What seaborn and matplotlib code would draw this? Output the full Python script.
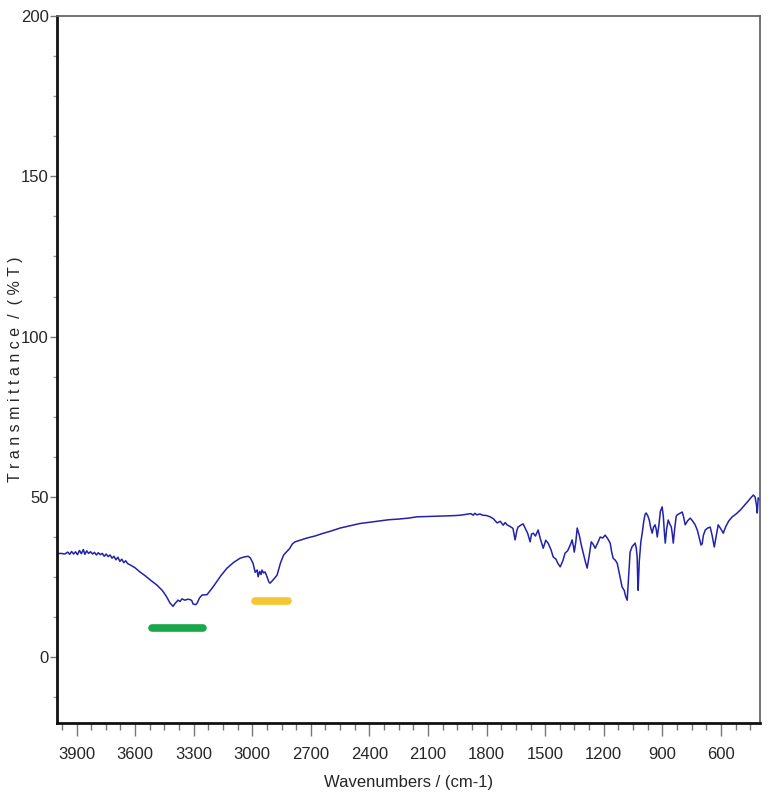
import numpy as np
import matplotlib
matplotlib.use('Agg')
import matplotlib.pyplot as plt
import matplotlib.ticker as ticker
import seaborn as sns

# ======================== 数据 ========================
wavenumber = [
    4000, 3980, 3960, 3945, 3935, 3925, 3915, 3905, 3895, 3885, 3875, 3865, 3857, 3848,
    3838, 3828, 3818, 3808, 3798, 3788, 3778, 3768, 3758, 3748, 3738, 3728, 3718, 3708,
    3698, 3688, 3678, 3668, 3658, 3648, 3638, 3625, 3600, 3575, 3550, 3520, 3488, 3460,
    3440, 3421, 3406, 3395, 3380, 3370, 3360, 3345, 3330, 3319, 3310, 3303, 3290, 3283,
    3270, 3257, 3232, 3200, 3160, 3129, 3095, 3062, 3040, 3021, 3010, 2996, 2985, 2975,
    2970, 2962, 2955, 2950, 2942, 2934, 2925, 2915, 2909, 2895, 2873, 2855, 2840, 2832,
    2810, 2795, 2781, 2760, 2740, 2719, 2680, 2640, 2600, 2550, 2500, 2450, 2400, 2350,
    2300, 2250, 2200, 2156, 2100, 2050, 2000, 1960, 1935, 1900, 1880, 1869, 1860, 1850,
    1835, 1820, 1800, 1782, 1765, 1746, 1730, 1715, 1705, 1695, 1680, 1665, 1654, 1645,
    1639, 1625, 1613, 1600, 1590, 1577, 1570, 1561, 1550, 1536, 1525, 1510, 1497, 1485,
    1470, 1459, 1445, 1435, 1423, 1410, 1398, 1385, 1370, 1362, 1355, 1351, 1343, 1336,
    1325, 1315, 1305, 1295, 1285, 1275, 1264, 1255, 1244, 1230, 1218, 1205, 1193, 1180,
    1167, 1160, 1152, 1140, 1131, 1120, 1112, 1106, 1095, 1088, 1080, 1074, 1068, 1065,
    1055, 1045, 1039, 1033, 1029, 1026, 1024, 1018, 1010, 1003, 995, 988, 983, 975,
    967, 960, 952, 945, 937, 931, 926, 918, 910, 901, 895, 889, 885, 878,
    870, 862, 854, 849, 844, 836, 829, 824, 812, 798, 790, 783, 770, 757,
    745, 732, 720, 710, 702, 696, 690, 680, 668, 655, 645, 634, 625, 614,
    600, 588, 575, 560, 542, 520, 501, 485, 465, 450, 434, 425, 418, 414,
    409, 403, 400,
]
transmittance = [
    32.3, 32.4, 32.2, 32.8, 32.1, 33.0, 32.2, 32.9, 32.0, 33.3, 32.3, 33.6, 32.1, 33.2,
    32.4, 32.9, 32.2, 32.7, 31.9, 32.6, 32.0, 32.4, 31.5, 32.2, 31.4, 31.9, 30.9, 31.5,
    30.4, 31.2, 29.9, 30.6, 29.5, 30.1, 29.2, 28.8, 27.9, 26.6, 25.5, 24.0, 22.5, 20.8,
    19.0, 16.9, 15.9, 16.8, 17.8, 17.4, 18.2, 17.8, 18.1, 18.0, 17.7, 16.6, 16.4, 16.8,
    18.5, 19.4, 19.5, 22.0, 25.5, 27.8, 29.6, 30.9, 31.3, 31.5, 31.0, 29.3, 26.5, 27.2,
    25.1, 26.8, 25.8, 27.2, 26.3, 26.6, 25.2, 23.5, 23.1, 24.0, 25.6, 29.5, 31.8, 32.4,
    33.8, 35.3, 36.0, 36.4, 36.8, 37.2, 37.8, 38.6, 39.3, 40.3, 41.0, 41.7, 42.1, 42.5,
    42.9, 43.1, 43.4, 43.8, 43.9, 44.0, 44.1, 44.2, 44.3, 44.6, 44.8, 44.3, 44.9, 44.4,
    44.7, 44.3, 44.2, 43.8, 43.2, 41.9, 42.4, 41.2, 42.0, 41.3, 40.8, 40.2, 36.6, 39.5,
    40.6, 41.2, 41.6, 40.0, 38.7, 36.0, 38.4, 38.7, 37.8, 39.7, 37.0, 34.0, 36.5, 35.6,
    33.5, 31.3, 30.6, 29.3, 28.2, 30.0, 32.5, 33.2, 35.2, 36.6, 34.5, 32.8, 36.0, 40.3,
    38.0, 35.0, 32.5, 30.0, 27.8, 31.5, 36.0, 35.3, 34.0, 35.8, 37.5, 37.2, 38.1, 37.0,
    35.6, 33.0, 30.9, 30.2, 29.3, 26.0, 23.5, 21.9, 20.8, 19.0, 17.8, 24.0, 30.5, 32.8,
    34.5, 35.2, 35.6, 33.8, 31.3, 24.0, 20.9, 30.0, 36.0, 38.7, 42.5, 44.6, 45.0, 44.2,
    42.8, 40.5, 38.7, 40.6, 41.3, 39.8, 37.5, 41.0, 45.5, 46.9, 44.0, 38.5, 35.6, 40.0,
    42.8, 41.6, 40.6, 38.5, 35.6, 40.5, 44.0, 44.4, 44.8, 45.3, 43.5, 41.3, 42.6, 43.4,
    42.5, 41.3, 39.5, 37.0, 35.0, 35.4, 38.0, 39.7, 40.3, 40.6, 38.0, 34.4, 37.5, 41.3,
    40.0, 38.7, 40.8, 42.5, 43.8, 44.8, 45.9, 47.0, 48.4, 49.5, 50.6, 50.0, 47.5, 45.0,
    49.7, 49.3, 49.0,
]

# 谱带标记 (O-H 与 C-H 区域)
band_oh_x = [3513, 3252]
band_oh_y = [9, 9]
band_ch_x = [2986, 2817]
band_ch_y = [17.5, 17.5]

x_major = [3900, 3600, 3300, 3000, 2700, 2400, 2100, 1800, 1500, 1200, 900, 600]
y_major = [0, 50, 100, 150, 200]

# ======================== 样式 ========================
sns.set_style('white')
plt.rcParams['font.family'] = ['Liberation Sans', 'DejaVu Sans']

fig = plt.figure(figsize=(7.71, 8.01), dpi=100)
ax = fig.add_axes([0.0739, 0.0974, 0.9118, 0.8826])

sns.lineplot(x=wavenumber, y=transmittance, sort=False, color='#2222aa',
             linewidth=1.1, ax=ax)

ax.plot(band_oh_x, band_oh_y, color='#1aa64a', linewidth=5.5, solid_capstyle='round')
ax.plot(band_ch_x, band_ch_y, color='#f5c632', linewidth=5.5, solid_capstyle='round')

ax.set_xlim(4000, 400)
ax.set_ylim(-20.5, 200)

ax.xaxis.set_major_locator(ticker.FixedLocator(x_major))
ax.xaxis.set_minor_locator(ticker.MultipleLocator(75))
ax.yaxis.set_major_locator(ticker.FixedLocator(y_major))
ax.yaxis.set_minor_locator(ticker.MultipleLocator(12.5))

ax.tick_params(axis='x', which='major', direction='out', length=9, width=1,
               color='#777777', labelsize=12, pad=8, bottom=True)
ax.tick_params(axis='x', which='minor', direction='out', length=5, width=1,
               color='#777777', bottom=True)
ax.tick_params(axis='y', which='major', direction='out', length=5, width=1,
               color='#777777', labelsize=12, pad=1, left=True)
ax.tick_params(axis='y', which='minor', direction='out', length=3, width=1,
               color='#999999', left=True)

for side in ['left', 'bottom']:
    ax.spines[side].set_color('#111111')
    ax.spines[side].set_linewidth(2.0)
for side in ['top', 'right']:
    ax.spines[side].set_color('#666666')
    ax.spines[side].set_linewidth(1.3)

ax.set_xlabel('Wavenumbers / (cm-1)', fontsize=12, labelpad=10)
ax.set_ylabel('T r a n s m i t t a n c e  /  ( % T )', fontsize=11.5)
ax.yaxis.set_label_coords(-0.049, 0.5)

plt.savefig('out.png', dpi=100)
plt.close()
